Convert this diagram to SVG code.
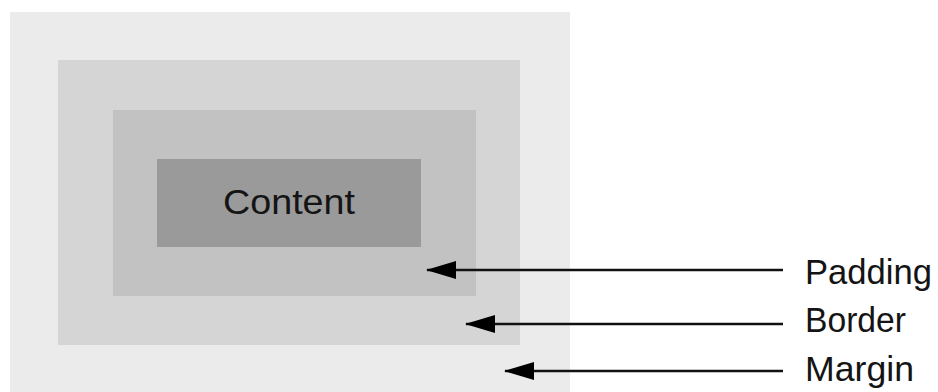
<svg xmlns="http://www.w3.org/2000/svg" width="938" height="392" viewBox="0 0 938 392">
<style>
text{font-family:"Liberation Sans","Noto Sans",sans-serif;font-size:35px;fill:#141414}
.conn{stroke:#111;stroke-width:2.5;fill:none}
</style>
<defs>
<marker id="ah" markerUnits="userSpaceOnUse" markerWidth="32" markerHeight="20" refX="29" refY="10" orient="auto">
<path d="M30,10 L0,1 L0,19 Z" fill="#000"/>
</marker>
</defs>
<rect width="938" height="392" fill="#fff"/>
<g id="margin"><rect x="10" y="12" width="560" height="380" fill="#ebebeb"/></g>
<g id="border"><rect x="58" y="60" width="462" height="285" fill="#d5d5d5"/></g>
<g id="padding"><rect x="113" y="110" width="363" height="186" fill="#c2c2c2"/></g>
<g id="content"><rect x="157" y="159" width="264" height="88" fill="#9a9a9a"/>
<text x="223" y="214" textLength="132" lengthAdjust="spacingAndGlyphs">Content</text></g>
<g id="connectors">
<line class="conn" x1="783" y1="270" x2="427" y2="270" marker-end="url(#ah)"/>
<line class="conn" x1="783" y1="324" x2="466" y2="324" marker-end="url(#ah)"/>
<line class="conn" x1="783" y1="371" x2="505" y2="371" marker-end="url(#ah)"/>
</g>
<g id="labels">
<text x="805" y="284" textLength="127" lengthAdjust="spacingAndGlyphs">Padding</text>
<text x="805" y="332" textLength="101" lengthAdjust="spacingAndGlyphs">Border</text>
<text x="805" y="381" textLength="109" lengthAdjust="spacingAndGlyphs">Margin</text>
</g>
</svg>
